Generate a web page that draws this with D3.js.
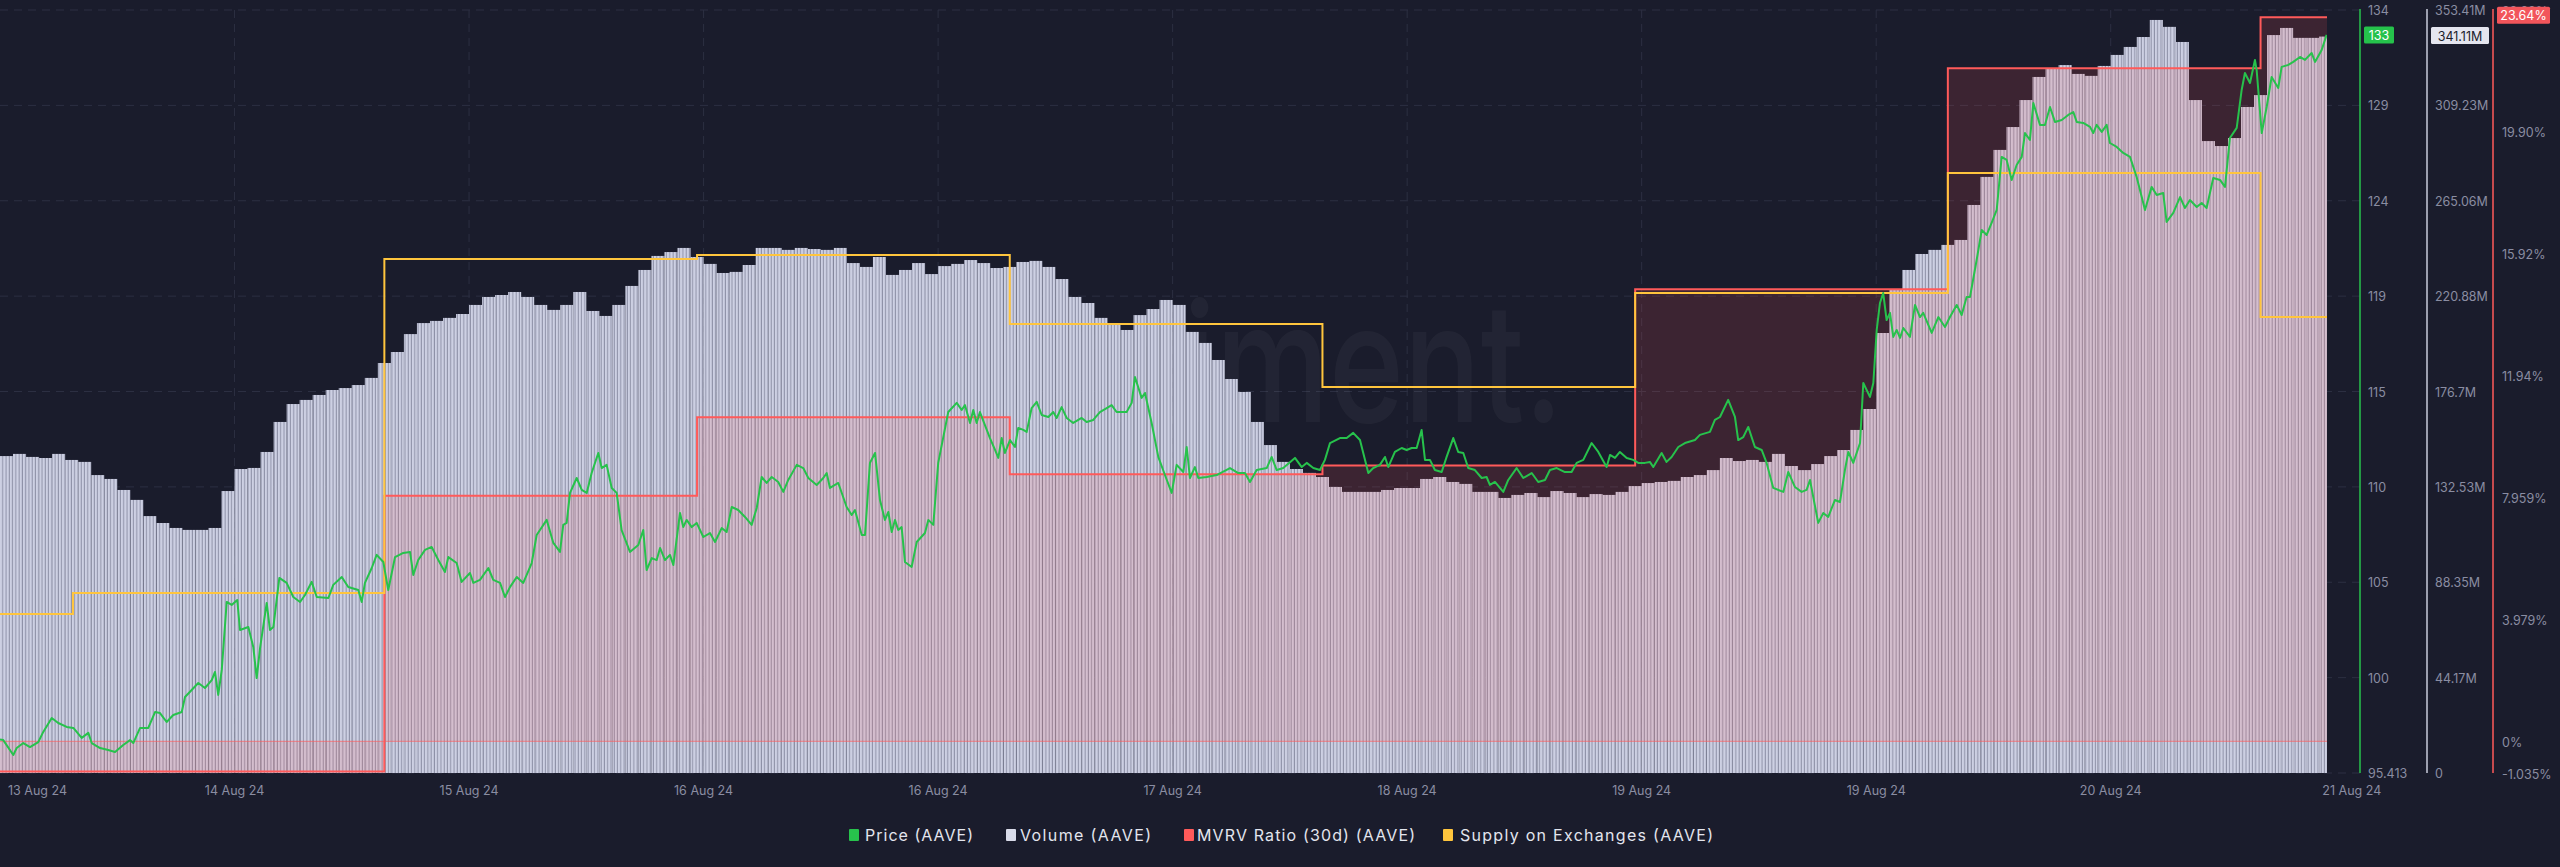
<!DOCTYPE html>
<html><head><meta charset="utf-8">
<script src="https://cdn.jsdelivr.net/npm/d3@7"></script>
<style>
html,body{margin:0;padding:0;background:#1a1c2c;overflow:hidden;}
svg{display:block;}
text{font-family:Inter,"Noto Sans",sans-serif;}
</style></head><body>
<svg id="chart" width="2560" height="867"></svg>
<script>
// ---------------- DATA ----------------
// hourly volume (millions), hour index 0..178
const volumeValues = [146.8,147.8,146.4,145.9,147.8,145.0,144.1,138.0,136.2,131.1,
126.5,119.0,115.8,113.5,112.6,112.6,113.5,130.6,140.8,141.3,
148.7,162.6,170.9,172.8,175.1,177.4,178.3,179.7,183.0,189.9,
195.0,203.3,208.4,209.4,210.8,212.6,216.8,220.5,221.4,222.8,
220.5,216.8,214.5,216.8,222.8,214.0,211.7,216.8,225.6,233.0,
239.5,241.3,243.2,239.0,235.8,231.6,232.1,235.3,243.2,243.2,
242.3,243.2,242.7,242.3,243.2,236.2,234.4,239.0,230.7,233.0,
236.2,231.1,234.8,235.8,237.6,236.2,233.9,234.4,236.7,237.2,
234.4,228.8,220.5,217.7,210.8,207.5,205.2,212.1,214.9,219.1,
216.8,204.3,199.2,191.3,182.5,176.5,162.6,151.9,144.1,140.8,
139.0,137.1,132.5,130.2,130.2,130.2,131.1,132.0,132.0,136.2,
137.1,134.8,133.9,130.2,130.2,127.4,128.8,129.7,127.8,130.6,
129.7,127.8,129.2,128.8,130.2,132.9,134.3,134.8,135.3,137.1,
138.0,140.3,145.9,144.5,145.0,144.1,147.8,142.2,140.3,143.1,
146.8,149.6,158.9,168.6,203.8,223.7,233.0,240.4,242.3,244.6,
246.9,263.1,276.1,288.6,299.2,311.7,322.4,326.1,327.9,323.8,
322.9,327.5,332.6,336.3,340.9,348.8,345.6,338.6,311.7,292.7,
290.4,294.1,308.5,314.0,341.8,345.1,340.5,340.5,341.11];

// price points [hour, price]
const pricePoints = [[0,97.1],[0.25,97.07],[1.02,96.32],[1.28,96.67],[1.79,96.92],[2.30,96.72],[2.94,96.97],[3.32,97.48],[3.97,98.18],[4.47,97.93],[5.12,97.73],[5.63,97.68],[6.27,97.18],[6.78,97.43],[7.04,96.92],[7.68,96.67],[8.31,96.57],[8.83,96.47],[9.46,96.82],[9.98,97.07],[10.23,96.92],[10.75,97.68],[11.38,97.68],[11.90,98.48],[12.28,98.43],[12.79,97.98],[13.30,98.33],[13.95,98.48],[14.20,99.24],[14.71,99.59],[15.22,99.94],[15.73,99.69],[16.25,100.09],[16.50,100.50],[16.75,99.34],[17.02,100.60],[17.40,104.02],[17.78,103.87],[18.21,104.12],[18.42,102.61],[19.06,102.76],[19.44,101.76],[19.70,100.19],[19.96,101.70],[20.47,103.97],[20.72,102.61],[20.98,102.76],[21.44,105.23],[22.00,104.98],[22.51,104.27],[23.03,104.02],[23.41,104.37],[23.92,105.03],[24.31,104.27],[25.20,104.22],[25.58,104.88],[26.23,105.28],[26.73,104.77],[27.50,104.62],[27.76,104.02],[28.01,104.98],[28.53,105.73],[28.91,106.39],[29.42,106.03],[29.80,104.62],[30.32,106.28],[30.95,106.49],[31.47,106.54],[31.72,105.38],[32.10,106.13],[32.62,106.64],[33.13,106.79],[33.64,106.13],[34.15,105.53],[34.41,106.28],[35.05,105.98],[35.43,105.03],[36.07,105.48],[36.33,104.98],[36.84,105.13],[37.48,105.73],[37.86,105.13],[38.38,104.98],
[38.76,104.27],[39.14,104.77],[39.66,105.28],[40.16,104.98],[40.81,105.98],[41.19,107.39],[41.96,108.15],[42.47,106.99],[42.98,106.54],[43.23,107.90],[43.49,108.00],[43.75,109.51],[44.26,110.26],[44.65,109.66],[45.03,109.51],[45.41,110.51],[45.92,111.52],[46.18,110.76],[46.56,110.92],[46.95,109.76],[47.33,109.51],[47.71,107.64],[48.35,106.54],[48.99,106.89],[49.37,107.64],[49.63,105.63],[50.02,106.23],[50.40,106.13],[50.66,106.74],[51.04,106.13],[51.42,106.39],[51.68,105.88],[52.19,108.50],[52.44,107.79],[52.70,108.15],[53.09,107.79],[53.47,108.00],[53.98,107.29],[54.49,107.49],[54.88,107.04],[55.39,107.74],[55.77,107.54],[56.16,108.80],[56.66,108.65],[57.18,108.30],[57.69,107.90],[58.08,108.75],[58.46,110.31],[58.84,110.01],[59.23,110.31],[59.73,110.06],[60.12,109.56],[60.50,110.16],[61.15,110.92],[61.65,110.76],[62.04,110.26],[62.68,109.91],[63.19,110.26],[63.45,110.51],[63.70,109.76],[64.34,110.01],[64.98,108.80],[65.37,108.40],[65.62,108.65],[66.14,107.39],[66.39,107.39],[66.77,111.02],[67.16,111.52],[67.54,109.15],
[67.92,108.15],[68.18,108.55],[68.44,107.54],[68.69,108.15],[68.94,107.64],[69.20,107.79],[69.46,106.03],[69.97,105.78],[70.36,107.04],[70.99,107.49],[71.25,108.15],[71.63,107.90],[72.01,111.02],[72.78,113.58],[73.43,114.04],[73.81,113.68],[74.06,113.93],[74.45,113.03],[74.70,113.68],[74.96,113.03],[75.21,113.58],[75.98,112.27],[76.37,111.67],[76.62,111.27],[76.88,112.27],[77.13,111.52],[77.52,112.17],[77.90,111.82],[78.15,112.78],[78.54,112.68],[78.80,112.58],[79.18,113.78],[79.57,114.09],[79.95,113.43],[80.46,113.33],[80.84,113.58],[81.10,113.28],[81.48,113.83],[81.87,113.28],[82.37,113.03],[83.02,113.28],[83.40,113.08],[83.91,113.18],[84.42,113.58],[84.94,113.78],[85.32,113.93],[85.70,113.58],[86.47,113.58],[86.86,114.04],[87.11,115.34],[87.62,114.29],[87.88,114.54],[88.39,113.03],[88.90,111.32],[89.41,110.41],[89.93,109.51],[90.31,110.92],[90.82,110.56],[91.08,111.82],[91.33,110.26],[91.71,110.81],[91.97,110.26],[92.61,110.31],[93.38,110.41],[94.40,110.76],[95.04,110.51],[95.55,110.51],[95.94,110.06],[96.45,110.66],[97.22,110.76],[97.60,111.32],[97.99,110.66],[98.49,110.76],[99.39,111.27],[99.91,110.81],[100.29,111.02],[100.80,110.76],[101.31,110.66],[101.69,111.17],[102.08,112.02],[102.84,112.27],[103.36,112.27],[103.86,112.53],[104.38,112.17],[105.02,110.51],[105.40,110.76],[105.91,110.92],
[106.30,111.32],[106.55,110.81],[107.06,111.57],[107.58,111.77],[107.96,111.67],[108.35,111.77],[108.73,111.77],[109.11,112.68],[109.37,111.17],[109.75,111.17],[110.13,110.66],[110.65,110.56],[111.03,111.32],[111.54,112.27],[111.92,111.57],[112.31,111.52],[112.69,110.76],[113.20,110.66],[113.72,110.26],[114.10,110.31],[114.35,109.91],[114.74,110.06],[115.38,109.56],[115.76,110.16],[116.40,110.76],[116.91,110.26],[117.56,110.51],[118.06,110.06],[118.58,110.16],[118.96,110.66],[119.48,110.76],[120.11,110.56],[120.62,110.56],[121.01,111.02],[121.52,111.17],[122.16,112.02],[122.67,111.57],[123.31,110.81],[123.57,111.42],[123.95,111.27],[124.33,111.57],[124.85,111.27],[125.35,111.17],[125.74,111.02],[126.25,111.02],[126.63,111.07],[126.89,110.81],[127.53,111.52],[127.91,111.07],[128.30,111.32],[128.81,111.82],[129.32,112.02],[130.09,112.17],[130.47,112.43],[131.24,112.58],[131.62,113.18],[132.01,113.33],[132.64,114.19],[133.16,113.33],[133.41,112.17],[133.80,112.32],[134.18,112.83],[134.69,111.82],[135.21,111.67],[135.59,111.02],[136.10,109.76],[136.87,109.56],[137.25,110.56],[137.76,109.81],[138.28,109.56],[138.66,109.66],[138.92,110.16],[139.55,108.00],[139.94,108.50],[140.32,108.30],[140.83,109.15],[141.22,109.05],[141.60,110.66],[141.86,111.57],[142.24,111.02],[142.76,112.02],[143.01,115.04],[143.52,114.34],[143.78,115.04],[144.04,117.71],[144.29,119.07],
[144.54,119.57],[144.80,118.21],[145.06,118.57],[145.31,117.36],[145.57,117.71],[145.83,117.31],[146.08,117.81],[146.59,117.36],[146.98,118.97],[147.36,118.36],[147.61,118.57],[148.26,117.56],[148.77,118.36],[149.28,117.86],[149.66,118.36],[150.18,118.97],[150.56,118.46],[150.94,119.37],[151.20,119.37],[151.71,121.23],[152.10,122.74],[152.48,122.49],[152.86,123.10],[153.25,123.75],[153.63,126.42],[154.01,126.27],[154.40,125.26],[154.78,126.01],[155.17,126.42],[155.42,127.62],[155.80,127.27],[156.06,129.13],[156.57,128.03],[156.95,128.03],[157.34,128.93],[157.72,128.18],[158.24,128.28],[158.74,128.53],[159.13,128.68],[159.39,128.18],[159.89,128.13],[160.41,127.93],[160.66,127.62],[160.92,128.03],[161.31,127.68],[161.69,128.03],[161.94,127.12],[162.46,126.92],[162.96,126.62],[163.48,126.42],[163.99,125.41],[164.38,124.40],[164.63,123.75],[165.14,124.91],[165.53,124.50],[166.03,124.60],[166.29,123.15],[166.80,123.60],[167.32,124.40],[167.70,123.85],[168.08,124.25],[168.60,123.90],[168.98,124.10],[169.36,123.85],[169.87,125.36],[170.39,125.26],[170.77,124.91],[171.15,127.37],[171.67,127.88],[172.05,129.79],[172.30,130.64],[172.69,130.14],[173.07,131.30],[173.20,130.80],[173.59,127.62],[173.97,128.93],[174.35,130.44],[174.86,129.89],[175.12,130.95],[175.63,131.05],[176.01,131.20],[176.53,131.45],[176.91,131.30],[177.42,131.65],[177.68,131.20],[178.19,131.80],[178.57,132.56]];

// daily metrics: start hour of each step and value
const mvrvHours  = [0, 29.5, 53.5, 77.5, 101.5, 125.5, 149.5, 173.5];
const mvrvValues = [-0.99, 8.02, 10.58, 8.72, 9.01, 14.76, 21.98, 23.64];
const supplyHours  = [0, 5.6, 29.5, 53.5, 77.5, 101.5, 125.5, 149.5, 173.5];
const supplyValues = [2.7834, 2.7944, 2.9694, 2.9715, 2.9354, 2.9023, 2.9516, 3.0145, 2.9390];

// axis ticks
const priceTickValues = [95.413,100.213,105.013,109.813,114.613,119.413,124.213,129.013,133.813];
const priceTickLabels = ["95.413","100","105","110","115","119","124","129","134"];
const volumeTickValues = [0,44.176,88.353,132.529,176.705,220.881,265.058,309.234,353.41];
const volumeTickLabels = ["0","44.17M","88.35M","132.53M","176.7M","220.88M","265.06M","309.23M","353.41M"];
const mvrvTickValues = [-1.035,0,3.979,7.959,11.94,15.92,19.90,23.88];
const mvrvTickLabels = ["-1.035%","0%","3.979%","7.959%","11.94%","15.92%","19.90%","23.88%"];
const xTickHours  = [0,18,36,54,72,90,108,126,144,162,180.5];
const xTickLabels = ["13 Aug 24","14 Aug 24","15 Aug 24","16 Aug 24","16 Aug 24","17 Aug 24","18 Aug 24","19 Aug 24","19 Aug 24","20 Aug 24","21 Aug 24"];
const legendLabels = ["Price (AAVE)","Volume (AAVE)","MVRV Ratio (30d) (AAVE)","Supply on Exchanges (AAVE)"];
const lastPriceLabel = "133", lastVolumeLabel = "341.11M", lastMvrvLabel = "23.64%";
const endHour = 178.6;

// ---------------- STYLE ----------------
const C = {
  bg:"#1a1c2c", grid:"#2c2f42", axisText:"#8a8da2",
  price:"#27c24c", vol:"#cdd0e3", volGap:"#8e91a7", mvrv:"#ff5a5a", supply:"#ffc53d"
};
const PL = 0, PR = 2327, PT = 10, PB = 773;

const svg = d3.select("#chart");
svg.append("rect").attr("width",2560).attr("height",867).attr("fill",C.bg);

const x = d3.scaleLinear().domain([0, endHour]).range([PL, PR]);
const yPrice = d3.scaleLinear().domain([95.413, 133.813]).range([PB, PT]);
const yVol = d3.scaleLinear().domain([0, 353.41]).range([PB, PT]);
const yMvrv = d3.scaleLinear().domain([-1.035, 23.88]).range([PB, PT]);
const ySupply = d3.scaleLinear().domain([2.70, 3.10]).range([PB, PT]);

const defs = svg.append("defs");
defs.append("clipPath").attr("id","plotClip").append("rect")
  .attr("x",PL).attr("y",PT-2).attr("width",PR-PL).attr("height",PB-PT+2);
const pat = defs.append("pattern").attr("id","volStripes")
  .attr("patternUnits","userSpaceOnUse").attr("width",3.27).attr("height",8);
pat.append("rect").attr("width",3.27).attr("height",8).attr("fill",C.volGap);
pat.append("rect").attr("width",2.25).attr("height",8).attr("fill",C.vol);

// grid
const grid = svg.append("g");
priceTickValues.forEach(v=>{
  grid.append("line").attr("x1",PL).attr("x2",2360).attr("y1",yPrice(v)).attr("y2",yPrice(v))
    .attr("stroke",C.grid).attr("stroke-width",1).attr("stroke-dasharray","8,6");
});
xTickHours.slice(1,10).forEach(h=>{
  grid.append("line").attr("x1",x(h)).attr("x2",x(h)).attr("y1",PT).attr("y2",PB)
    .attr("stroke",C.grid).attr("stroke-width",1).attr("stroke-dasharray","8,6");
});

// watermark
svg.append("text").attr("x",922).attr("y",422).attr("font-size",165).attr("font-weight",500)
  .attr("textLength",641).attr("lengthAdjust","spacingAndGlyphs")
  .attr("fill","rgba(255,255,255,0.04)").text("santiment.");

const plot = svg.append("g").attr("clip-path","url(#plotClip)");

// volume bars
plot.append("g").selectAll("rect").data(volumeValues).join("rect")
  .attr("x",(d,i)=>x(i))
  .attr("width",(d,i)=>x(Math.min(i+1,endHour))-x(i))
  .attr("y",d=>yVol(d))
  .attr("height",d=>yVol(0)-yVol(d))
  .attr("fill","url(#volStripes)");

// MVRV area
const mvrvData = mvrvHours.map((h,i)=>[h,mvrvValues[i]]);
mvrvData.push([endHour, mvrvValues[mvrvValues.length-1]]);
plot.append("path").datum(mvrvData)
  .attr("d", d3.area().x(d=>x(d[0])).y0(yMvrv(0)).y1(d=>yMvrv(d[1])).curve(d3.curveStepAfter))
  .attr("fill","rgba(255,90,90,0.15)");
plot.append("line").attr("x1",PL).attr("x2",PR).attr("y1",yMvrv(0)).attr("y2",yMvrv(0))
  .attr("stroke","rgba(255,90,90,0.55)").attr("stroke-width",1.2);
plot.append("path").datum(mvrvData)
  .attr("d", d3.line().x(d=>x(d[0])).y(d=>yMvrv(d[1])).curve(d3.curveStepAfter))
  .attr("fill","none").attr("stroke",C.mvrv).attr("stroke-width",2);

// supply line
const supplyData = supplyHours.map((h,i)=>[h,supplyValues[i]]);
supplyData.push([endHour, supplyValues[supplyValues.length-1]]);
plot.append("path").datum(supplyData)
  .attr("d", d3.line().x(d=>x(d[0])).y(d=>ySupply(d[1])).curve(d3.curveStepAfter))
  .attr("fill","none").attr("stroke",C.supply).attr("stroke-width",2);

// price line
plot.append("path").datum(pricePoints)
  .attr("d", d3.line().x(d=>x(d[0])).y(d=>yPrice(d[1])))
  .attr("fill","none").attr("stroke",C.price).attr("stroke-width",2)
  .attr("stroke-linejoin","round");

// axis lines
svg.append("line").attr("x1",2360).attr("x2",2360).attr("y1",PT-1).attr("y2",PB).attr("stroke",C.price).attr("stroke-width",1.5);
svg.append("line").attr("x1",2427).attr("x2",2427).attr("y1",PT-1).attr("y2",PB).attr("stroke","#c9cbdb").attr("stroke-width",1.5);
svg.append("line").attr("x1",2493).attr("x2",2493).attr("y1",PT-1).attr("y2",PB).attr("stroke",C.mvrv).attr("stroke-width",1.5);

const tickFont = 12.5;
const axG = svg.append("g").attr("font-size",tickFont).attr("fill",C.axisText).attr("dominant-baseline","central");
priceTickValues.forEach((v,i)=>axG.append("text").attr("x",2368).attr("y",yPrice(v)+0.5).text(priceTickLabels[i]));
volumeTickValues.forEach((v,i)=>axG.append("text").attr("x",2435).attr("y",yVol(v)+0.5).text(volumeTickLabels[i]));
mvrvTickValues.forEach((v,i)=>axG.append("text").attr("x",2502).attr("y",yMvrv(v)+1).text(mvrvTickLabels[i]));

// x labels
const xg = svg.append("g").attr("font-size",tickFont).attr("fill",C.axisText).attr("dominant-baseline","central");
xTickHours.forEach((h,i)=>{
  const t = xg.append("text").attr("y",790).text(xTickLabels[i]);
  if(i===0) t.attr("x",8).attr("text-anchor","start");
  else t.attr("x",x(h)).attr("text-anchor","middle");
});

// last value badges
const lastPrice = pricePoints[pricePoints.length-1][1];
const lastVol = volumeValues[volumeValues.length-1];
const lastMvrv = mvrvValues[mvrvValues.length-1];
function badge(x0,w,cy,fill,txtColor,label){
  svg.append("rect").attr("x",x0).attr("y",cy-8.5).attr("width",w).attr("height",17).attr("rx",1.5).attr("fill",fill);
  svg.append("text").attr("x",x0+w/2).attr("y",cy+0.5).attr("text-anchor","middle").attr("dominant-baseline","central")
    .attr("font-size",tickFont).attr("fill",txtColor).text(label);
}
badge(2364,30,yPrice(lastPrice),"#25c24b","#ffffff",lastPriceLabel);
badge(2431,58,yVol(lastVol)-1,"#e4e5ef","#1b1c2b",lastVolumeLabel);
badge(2497,53,yMvrv(lastMvrv)-2,"#f2555b","#ffffff",lastMvrvLabel);

// legend
const legColors = [C.price, "#d9dbe9", C.mvrv, C.supply];
const legSqX = [849, 1006, 1184, 1443];
const legTxX = [865, 1020, 1197, 1460];
const legW = [108, 131, 218, 253];
const lg = svg.append("g");
legendLabels.forEach((lab,i)=>{
  lg.append("rect").attr("x",legSqX[i]).attr("y",829).attr("width",10).attr("height",12).attr("rx",1).attr("fill",legColors[i]);
  lg.append("text").attr("x",legTxX[i]).attr("y",840.5).attr("font-size",16).attr("fill","#e3e5ee")
    .attr("textLength",legW[i]).attr("lengthAdjust","spacing").text(lab);
});
</script></body></html>
